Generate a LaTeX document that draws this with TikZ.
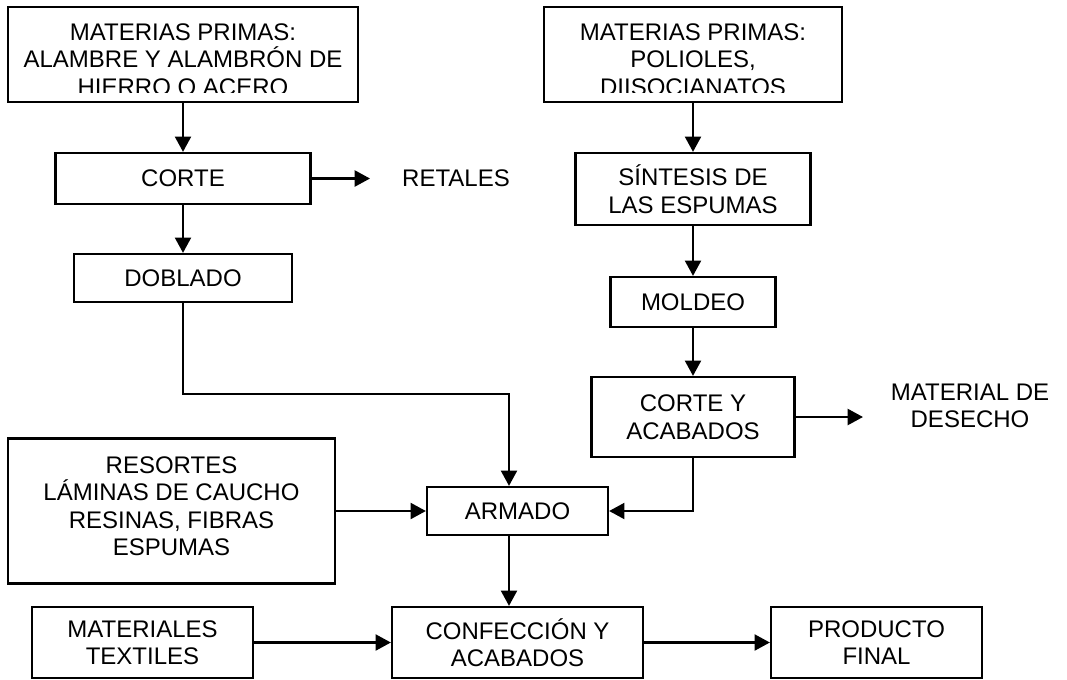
\documentclass[tikz,border=0pt]{standalone}
\usepackage{fontspec}
\setmainfont{Liberation Sans}
\usetikzlibrary{arrows.meta,positioning}
\tikzset{
  pbox/.style 2 args={draw=black,line width=1.7pt,align=center,
                font=\fontsize{18}{20.6}\selectfont,inner sep=0pt,
                minimum width=#1*0.75pt,minimum height=#2*0.75pt},
  ptext/.style={align=center,font=\fontsize{18}{20.6}\selectfont,inner sep=0pt},
  parrow/.style={-{Triangle[length=11.5pt,width=12pt]},black,line width=1.7pt},
}
\begin{document}
\begin{tikzpicture}[x=0.75pt,y=-0.75pt]
    \useasboundingbox (0,0) rectangle (1067,679);
    % rama del alambre
    \node[pbox={350}{95}] (mat1) at (183,54.5) {};
    \begin{scope}
      \clip (mat1.north west) rectangle (358,92.3);
      \node[ptext] at (183,59.5) {MATERIAS PRIMAS:\\ALAMBRE Y ALAMBRÓN DE\\HIERRO O ACERO};
    \end{scope}
    \node[pbox={255}{51}] (corte) at (183,178.5) {CORTE};
    \node[ptext] (retales) at (456,178.5) {RETALES};
    \coordinate (retfin) at (370,178.5);
    \node[pbox={218}{48}] (doblado) at (183,278) {DOBLADO};
    % rama de las espumas
    \node[pbox={298}{95}] (mat2) at (693,54.5) {};
    \begin{scope}
      \clip (mat2.north west) rectangle (842,92.3);
      \node[ptext] at (693,59.5) {MATERIAS PRIMAS:\\POLIOLES,\\DIISOCIANATOS};
    \end{scope}
    \node[pbox={235}{72}] (sint) at (693,189) {SÍNTESIS DE\\LAS ESPUMAS};
    \node[pbox={165}{50}] (moldeo) at (693,302) {MOLDEO};
    \node[pbox={203}{80}] (cya) at (693,417) {CORTE Y\\ACABADOS};
    \node[ptext] (desecho) at (970,406) {MATERIAL DE\\DESECHO};
    \coordinate (desfin) at (863,417);
    % armado y confeccion
    \node[pbox={327}{145},text depth=7.5pt] (resortes) at (171.5,511) {RESORTES\\LÁMINAS DE CAUCHO\\RESINAS, FIBRAS\\ESPUMAS};
    \node[pbox={181}{48}] (armado) at (517.5,511) {ARMADO};
    \node[pbox={221}{71}] (textiles) at (142.5,642.5) {MATERIALES\\TEXTILES};
    \node[pbox={251}{71}] (conf) at (517.5,642.5) {CONFECCIÓN Y\\ACABADOS};
    \node[pbox={211}{71}] (prod) at (876.5,642.5) {PRODUCTO\\FINAL};
    \coordinate (codo) at (509,394);
    % flechas
    \draw[parrow] (mat1) -- (corte);
    \draw[parrow] (corte.east) -- (retfin);
    \draw[parrow] (corte) -- (doblado);
    \draw[parrow] (doblado.south) |- (codo) -- (codo |- armado.north);
    \draw[parrow] (mat2) -- (sint);
    \draw[parrow] (sint) -- (moldeo);
    \draw[parrow] (moldeo) -- (cya);
    \draw[parrow] (cya.east) -- (desfin);
    \draw[parrow] (cya.south) |- (armado.east);
    \draw[parrow] (resortes.east) -- (armado.west);
    \draw[parrow] (codo |- armado.south) -- (codo |- conf.north);
    \draw[parrow] (textiles) -- (conf);
    \draw[parrow] (conf) -- (prod);
  \end{tikzpicture}
\end{document}
